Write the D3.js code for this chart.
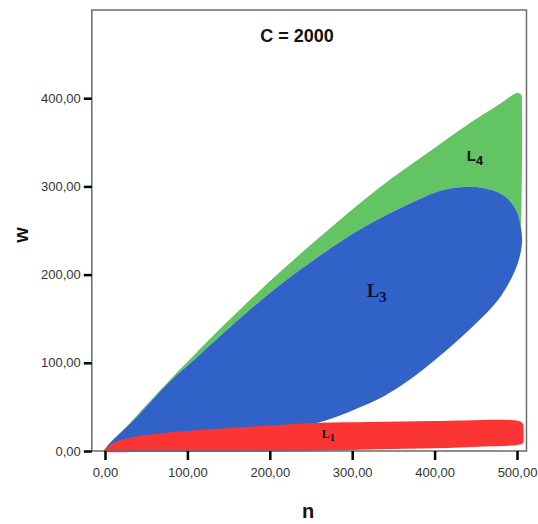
<!DOCTYPE html>
<html>
<head>
<meta charset="utf-8">
<script src="https://cdn.jsdelivr.net/npm/d3@7"></script>
<style>
  body { margin: 0; background: #fff; }
  svg { display: block; font-family: 'Liberation Sans', Arial, sans-serif; }
  .tick text { fill: #333; font-size: 13px; }
</style>
</head>
<body>
<div id="chart"></div>
<script>
// ticks
var xTicks = [0, 100, 200, 300, 400, 500];
var yTicks = [0, 100, 200, 300, 400];

// L4 (green) outer boundary, origin -> top right -> down the right edge
var l4Top = [[0, 0], [50, 52], [104, 105], [160, 157], [216, 206], [275, 254], [332, 298],
  [390, 337], [440, 370], [480, 394], [500, 406], [505, 404], [506, 390], [506, 320], [505, 250]];

// L3 (blue) region: upper edge then lower edge back to origin
var l3Top = [[0, 0], [40, 40], [79, 79], [104, 100], [150, 139], [216, 191], [287, 238],
  [328, 261], [380, 285], [407, 295], [431, 299], [453, 299], [475, 294], [490, 285],
  [500, 271], [505, 252]];
var l3Bottom = [[506, 235], [501, 213], [491, 192], [476, 170], [455, 149], [430, 127],
  [400, 103], [370, 81], [340, 63], [313, 51], [290, 42], [258, 32], [200, 20], [100, 8], [20, 1]];

// L1 (red) band
var l1Top = [[-2, 0], [4, 5], [10, 9], [30, 15], [91, 22], [152, 26], [200, 29], [260, 32],
  [320, 33], [400, 34], [502, 34], [507, 31]];
var l1Bottom = [[508, 20], [507, 9], [502, 7], [460, 5], [400, 3], [330, 2], [250, 0],
  [150, -1], [40, -1], [2, -1]];

var labels = [
  {text: 'L', sub: '4', n: 439, w: 329, size: 15, sans: true},
  {text: 'L', sub: '3', n: 318, w: 175, size: 18, sans: false},
  {text: 'L', sub: '1', n: 263, w: 15, size: 12, sans: false}
];

var width = 538, height = 524;

var x = d3.scaleLinear().domain([0, 500]).range([105, 517]);
var y = d3.scaleLinear().domain([0, 500]).range([451, 10]);

var fmt = d3.formatLocale({decimal: ',', thousands: '.', grouping: [3], currency: ['', '']}).format('.2f');

var svg = d3.select('#chart').append('svg')
  .attr('width', width)
  .attr('height', height);

var line = d3.line()
  .x(function(d) { return x(d[0]); })
  .y(function(d) { return y(d[1]); })
  .curve(d3.curveCatmullRomClosed.alpha(0.5));

// green under everything
svg.append('path')
  .attr('d', line(l4Top.concat(l3Top.slice().reverse())))
  .attr('fill', '#62c462');

svg.append('path')
  .attr('d', line(l3Top.concat(l3Bottom)))
  .attr('fill', '#3162c8');

svg.append('path')
  .attr('d', line(l1Top.concat(l1Bottom)))
  .attr('fill', '#fb3434');

// region labels
labels.forEach(function(l) {
  var t = svg.append('text')
    .attr('x', x(l.n))
    .attr('y', y(l.w))
    .attr('font-weight', 'bold')
    .attr('font-size', l.size)
    .attr('font-family', l.sans ? "'Liberation Sans', Arial, sans-serif" : "'Liberation Serif', 'Times New Roman', serif")
    .attr('fill', l.sans ? '#111' : '#101030')
    .text(l.text);
  t.append('tspan')
    .attr('dy', l.size * 0.3)
    .attr('font-size', l.size * 0.85)
    .text(l.sub);
});

// frame
svg.append('rect')
  .attr('x', x(-16))
  .attr('y', y(500))
  .attr('width', x(511.5) - x(-16))
  .attr('height', y(0) - y(500))
  .attr('fill', 'none')
  .attr('stroke', '#6a6a6a')
  .attr('stroke-width', 1.5);

// axes
var yAxis = svg.append('g')
  .attr('transform', 'translate(' + x(-16) + ',0)')
  .call(d3.axisLeft(y).tickValues(yTicks).tickSize(8).tickPadding(3).tickFormat(fmt));
yAxis.select('.domain').remove();

var xAxis = svg.append('g')
  .attr('transform', 'translate(0,' + y(0) + ')')
  .call(d3.axisBottom(x).tickValues(xTicks).tickSize(9).tickPadding(8).tickFormat(fmt));
xAxis.select('.domain').remove();

svg.selectAll('.tick line')
  .attr('stroke', '#000')
  .attr('stroke-width', 2.5);

// titles
svg.append('text')
  .attr('x', 297)
  .attr('y', 42)
  .attr('text-anchor', 'middle')
  .attr('font-size', 18)
  .attr('font-weight', 'bold')
  .attr('fill', '#111')
  .text('C = 2000');

svg.append('text')
  .attr('x', 308)
  .attr('y', 518)
  .attr('text-anchor', 'middle')
  .attr('font-size', 20)
  .attr('font-weight', 'bold')
  .attr('fill', '#111')
  .text('n');

svg.append('text')
  .attr('transform', 'translate(28,235) rotate(-90)')
  .attr('text-anchor', 'middle')
  .attr('font-size', 20)
  .attr('font-weight', 'bold')
  .attr('fill', '#111')
  .text('w');
</script>
</body>
</html>
